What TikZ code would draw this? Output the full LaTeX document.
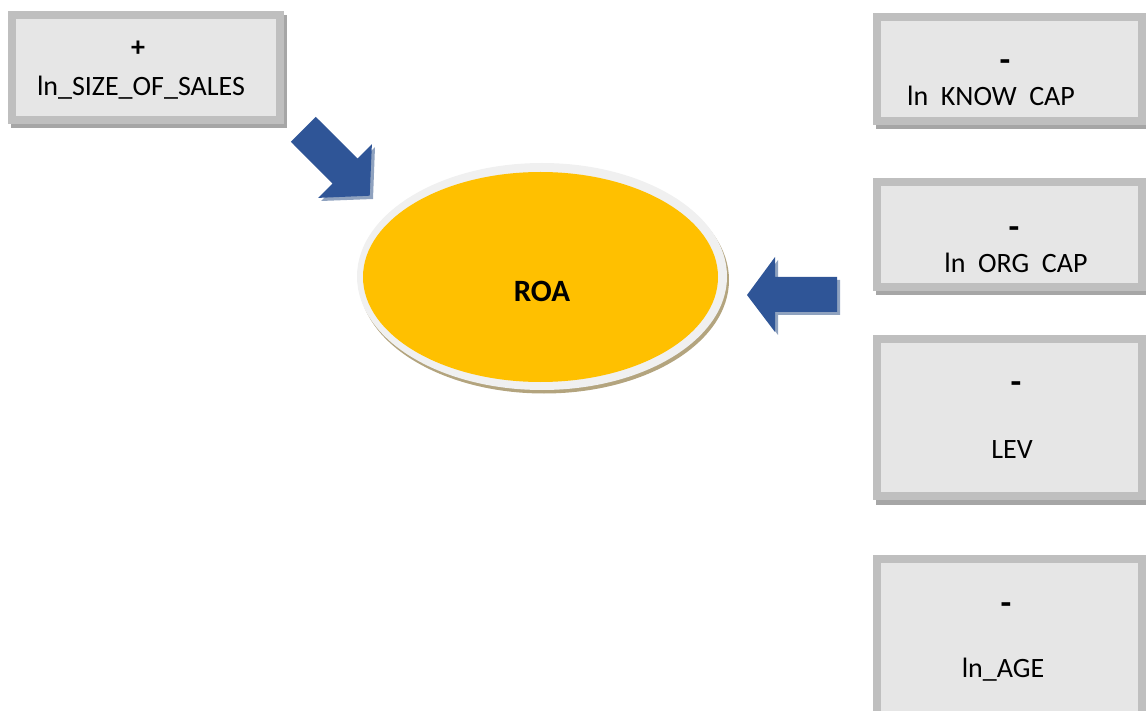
\documentclass[tikz,border=0pt]{standalone}
\usepackage{fontspec}
\setmainfont{Carlito}
\definecolor{boxfill}{HTML}{E6E6E6}
\definecolor{boxline}{HTML}{BFBFBF}
\definecolor{boxshadow}{HTML}{A6A6A6}
\definecolor{roayellow}{HTML}{FFC000}
\definecolor{rimgray}{HTML}{F0F0F0}
\definecolor{rimshadow}{HTML}{B3A47E}
\definecolor{arrowblue}{HTML}{2F5597}
\definecolor{arrowshadow}{HTML}{8FA2BF}
\begin{document}
\begin{tikzpicture}[x=1pt,y=-1pt,
  varbox/.style={draw=boxline, fill=boxfill, line width=8pt, rectangle, inner sep=0pt},
  boxshade/.style={fill=boxshadow, draw=none, rectangle, inner sep=0pt},
  lbl/.style={anchor=base, inner sep=0pt, font=\fontsize{28}{34}\selectfont},
  sign/.style={anchor=base, inner sep=0pt, font=\fontsize{28}{34}\selectfont\bfseries},
  minus/.style={anchor=base, inner sep=0pt, font=\fontsize{35}{40}\selectfont\bfseries},
  blockarrow/.style={fill=arrowblue, draw=none},
  arrowshade/.style={fill=arrowshadow, draw=none}]
\useasboundingbox (0,0) rectangle (1146,711);
\clip (0,0) rectangle (1146,711);

% ---- box 1 ----
\node[boxshade, minimum width=276pt, minimum height=113pt] (s1) at (149,72) {};
\node[varbox, minimum width=268pt, minimum height=105pt] (b1) at (146,67.5) {};
\node[sign] (p1) at (138,57) {+};
\node[lbl] (t1) at (141,96) {ln\_SIZE\_OF\_SALES};

% ---- box 2 ----
\node[boxshade, minimum width=273pt, minimum height=112pt] (s2) at (1012.5,73) {};
\node[varbox, minimum width=265pt, minimum height=104pt] (b2) at (1009.5,69) {};
\node[minus] (p2) at (1005,72) {-};
\node[lbl] (t2) at (991,106) {ln\ \ KNOW\ \ CAP};

% ---- box 3 ----
\node[boxshade, minimum width=273pt, minimum height=113pt] (s3) at (1012.5,239) {};
\node[varbox, minimum width=265pt, minimum height=105pt] (b3) at (1009.5,234.5) {};
\node[minus] (p3) at (1014,238.5) {-};
\node[lbl] (t3) at (1016,273) {ln\ \ ORG\ \ CAP};

% ---- box 4 ----
\node[boxshade, minimum width=273pt, minimum height=165pt] (s4) at (1012.5,422) {};
\node[varbox, minimum width=265pt, minimum height=157pt] (b4) at (1009.5,417.5) {};
\node[minus] (p4) at (1016,393.5) {-};
\node[lbl] (t4) at (1012,458) {LEV};

% ---- box 5 ----
\node[boxshade, minimum width=273pt, minimum height=169pt] (s5) at (1012.5,644.5) {};
\node[varbox, minimum width=265pt, minimum height=161pt] (b5) at (1009.5,639.5) {};
\node[minus] (p5) at (1006,614.5) {-};
\node[lbl] (t5) at (1003,677) {ln\_AGE};

% ---- ROA ellipse ----
\coordinate (roaShadow) at (544,280);
\coordinate (roaRim) at (542,276.5);
\coordinate (roaC) at (540.5,277);
\fill[rimshadow] (roaShadow) ellipse [x radius=185pt, y radius=113.5pt];
\fill[rimgray] (roaRim) ellipse [x radius=185pt, y radius=113.5pt];
\fill[roayellow] (roaC) ellipse [x radius=177.5pt, y radius=105pt];
\node[anchor=base, inner sep=0pt, font=\fontsize{31}{36}\selectfont\bfseries] (roa) at (542,302) {ROA};

% ---- arrow 1 (diagonal, down-right) ----
\fill[arrowshade] (293.9,144.7) -- (335.6,186.4) -- (321,201) -- (373,199) -- (375,147) -- (360.4,161.6) -- (318.7,119.9) -- cycle;
\fill[blockarrow] (290.9,141.7) -- (332.6,183.4) -- (318.1,197.9) -- (369.7,195.7) -- (371.9,144.1) -- (357.4,158.6) -- (315.7,116.9) -- cycle;

% ---- arrow 2 (left) ----
\fill[arrowshade] (750,298) -- (778,260) -- (778,280) -- (840,280) -- (840,315) -- (778,315) -- (778,335) -- cycle;
\fill[blockarrow] (747,295) -- (775,257) -- (775,277) -- (837,277) -- (837,312) -- (775,312) -- (775,332) -- cycle;
\end{tikzpicture}
\end{document}
